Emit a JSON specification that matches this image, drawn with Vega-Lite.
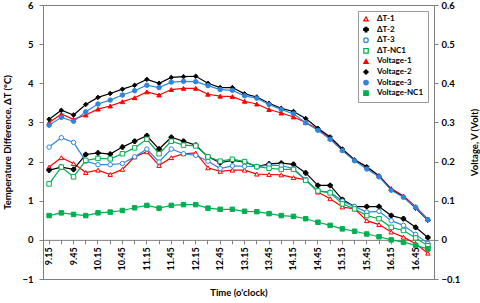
{
  "$schema": "https://vega.github.io/schema/vega-lite/v6.json",
  "width": 391,
  "height": 274,
  "autosize": {"type": "none"},
  "padding": {"left": 43, "top": 5, "right": 46, "bottom": 24},
  "config": {
    "view": {"stroke": "#7f7f7f", "strokeWidth": 1},
    "font": "Lato",
    "axis": {
      "labelFont": "Lato", "labelFontWeight": "bold", "labelFontSize": 9.5, "labelColor": "#000000",
      "titleFont": "Lato", "titleFontWeight": "bold", "titleFontSize": 9.5, "titleColor": "#000000",
      "domainColor": "#7f7f7f", "tickColor": "#7f7f7f", "grid": false, "tickSize": 4
    },
    "legend": {
      "labelFont": "Lato", "labelFontWeight": "bold", "labelFontSize": 8, "labelColor": "#000000"
    }
  },
  "datasets": {
    "wide": [
      {"t": "9.15", "dT1": 1.86, "dT2": 1.78, "dT3": 2.37, "dTNC1": 1.43, "V1": 0.300, "V2": 0.308, "V3": 0.293, "VNC1": 0.062},
      {"t": "9.30", "dT1": 2.10, "dT2": 1.86, "dT3": 2.61, "dTNC1": 1.86, "V1": 0.321, "V2": 0.331, "V3": 0.313, "VNC1": 0.069},
      {"t": "9.45", "dT1": 1.95, "dT2": 1.80, "dT3": 2.49, "dTNC1": 1.61, "V1": 0.308, "V2": 0.319, "V3": 0.303, "VNC1": 0.065},
      {"t": "10.00", "dT1": 1.72, "dT2": 2.18, "dT3": 2.01, "dTNC1": 2.03, "V1": 0.319, "V2": 0.346, "V3": 0.327, "VNC1": 0.062},
      {"t": "10.15", "dT1": 1.78, "dT2": 2.22, "dT3": 1.92, "dTNC1": 2.08, "V1": 0.334, "V2": 0.364, "V3": 0.347, "VNC1": 0.069},
      {"t": "10.30", "dT1": 1.67, "dT2": 2.19, "dT3": 1.92, "dTNC1": 2.07, "V1": 0.342, "V2": 0.374, "V3": 0.357, "VNC1": 0.071},
      {"t": "10.45", "dT1": 1.80, "dT2": 2.37, "dT3": 1.95, "dTNC1": 2.20, "V1": 0.353, "V2": 0.385, "V3": 0.370, "VNC1": 0.075},
      {"t": "11.00", "dT1": 2.12, "dT2": 2.52, "dT3": 2.12, "dTNC1": 2.35, "V1": 0.363, "V2": 0.395, "V3": 0.381, "VNC1": 0.082},
      {"t": "11.15", "dT1": 2.25, "dT2": 2.66, "dT3": 2.32, "dTNC1": 2.57, "V1": 0.378, "V2": 0.410, "V3": 0.395, "VNC1": 0.088},
      {"t": "11.30", "dT1": 1.90, "dT2": 2.32, "dT3": 1.99, "dTNC1": 2.20, "V1": 0.370, "V2": 0.400, "V3": 0.389, "VNC1": 0.081},
      {"t": "11.45", "dT1": 2.10, "dT2": 2.62, "dT3": 2.32, "dTNC1": 2.52, "V1": 0.384, "V2": 0.415, "V3": 0.403, "VNC1": 0.088},
      {"t": "12.00", "dT1": 2.20, "dT2": 2.52, "dT3": 2.20, "dTNC1": 2.42, "V1": 0.387, "V2": 0.417, "V3": 0.405, "VNC1": 0.090},
      {"t": "12.15", "dT1": 2.22, "dT2": 2.42, "dT3": 2.16, "dTNC1": 2.40, "V1": 0.387, "V2": 0.418, "V3": 0.404, "VNC1": 0.090},
      {"t": "12.30", "dT1": 1.84, "dT2": 2.12, "dT3": 2.01, "dTNC1": 2.12, "V1": 0.372, "V2": 0.400, "V3": 0.394, "VNC1": 0.081},
      {"t": "12.45", "dT1": 1.75, "dT2": 1.97, "dT3": 1.82, "dTNC1": 2.01, "V1": 0.367, "V2": 0.389, "V3": 0.384, "VNC1": 0.078},
      {"t": "13.00", "dT1": 1.78, "dT2": 2.03, "dT3": 1.89, "dTNC1": 2.06, "V1": 0.366, "V2": 0.389, "V3": 0.382, "VNC1": 0.078},
      {"t": "13.15", "dT1": 1.78, "dT2": 1.99, "dT3": 1.88, "dTNC1": 2.00, "V1": 0.354, "V2": 0.373, "V3": 0.368, "VNC1": 0.073},
      {"t": "13.30", "dT1": 1.68, "dT2": 1.87, "dT3": 1.87, "dTNC1": 1.87, "V1": 0.347, "V2": 0.365, "V3": 0.362, "VNC1": 0.072},
      {"t": "13.45", "dT1": 1.67, "dT2": 1.94, "dT3": 1.91, "dTNC1": 1.83, "V1": 0.333, "V2": 0.349, "V3": 0.346, "VNC1": 0.067},
      {"t": "14.00", "dT1": 1.66, "dT2": 1.96, "dT3": 1.90, "dTNC1": 1.80, "V1": 0.324, "V2": 0.336, "V3": 0.333, "VNC1": 0.062},
      {"t": "14.15", "dT1": 1.59, "dT2": 1.93, "dT3": 1.82, "dTNC1": 1.80, "V1": 0.314, "V2": 0.328, "V3": 0.322, "VNC1": 0.060},
      {"t": "14.30", "dT1": 1.54, "dT2": 1.71, "dT3": 1.54, "dTNC1": 1.52, "V1": 0.300, "V2": 0.310, "V3": 0.299, "VNC1": 0.054},
      {"t": "14.45", "dT1": 1.22, "dT2": 1.39, "dT3": 1.25, "dTNC1": 1.25, "V1": 0.283, "V2": 0.285, "V3": 0.280, "VNC1": 0.045},
      {"t": "15.00", "dT1": 1.05, "dT2": 1.39, "dT3": 1.22, "dTNC1": 1.20, "V1": 0.259, "V2": 0.263, "V3": 0.257, "VNC1": 0.037},
      {"t": "15.15", "dT1": 0.84, "dT2": 1.03, "dT3": 0.99, "dTNC1": 0.92, "V1": 0.230, "V2": 0.232, "V3": 0.228, "VNC1": 0.028},
      {"t": "15.30", "dT1": 0.79, "dT2": 0.85, "dT3": 0.85, "dTNC1": 0.79, "V1": 0.205, "V2": 0.204, "V3": 0.202, "VNC1": 0.022},
      {"t": "15.45", "dT1": 0.49, "dT2": 0.85, "dT3": 0.71, "dTNC1": 0.62, "V1": 0.186, "V2": 0.187, "V3": 0.181, "VNC1": 0.015},
      {"t": "16.00", "dT1": 0.39, "dT2": 0.85, "dT3": 0.73, "dTNC1": 0.54, "V1": 0.164, "V2": 0.163, "V3": 0.161, "VNC1": 0.008},
      {"t": "16.15", "dT1": 0.20, "dT2": 0.62, "dT3": 0.49, "dTNC1": 0.32, "V1": 0.131, "V2": 0.128, "V3": 0.127, "VNC1": 0.000},
      {"t": "16.30", "dT1": 0.07, "dT2": 0.54, "dT3": 0.37, "dTNC1": 0.24, "V1": 0.112, "V2": 0.110, "V3": 0.109, "VNC1": -0.006},
      {"t": "16.45", "dT1": -0.10, "dT2": 0.32, "dT3": 0.14, "dTNC1": 0.05, "V1": 0.085, "V2": 0.081, "V3": 0.083, "VNC1": -0.014},
      {"t": "17.00", "dT1": -0.34, "dT2": 0.06, "dT3": -0.09, "dTNC1": -0.15, "V1": 0.053, "V2": 0.050, "V3": 0.052, "VNC1": -0.023}
    ]
  },
  "data": {"name": "wide"},
  "layer": [
    {
      "transform": [{"fold": ["dT1", "dT2", "dT3", "dTNC1"], "as": ["key", "value"]}],
      "mark": {"type": "line", "strokeWidth": 1.2},
      "encoding": {
        "x": {
          "field": "t", "type": "ordinal", "sort": null,
          "scale": {"type": "band", "paddingInner": 0, "paddingOuter": 0},
          "axis": {
            "orient": "bottom", "offset": -39.14, "title": "Time (o'clock)",
            "labelAngle": -90, "labelPadding": 3, "labelFontSize": 9,
            "labelExpr": "slice(datum.value, -2) == '15' || slice(datum.value, -2) == '45' ? datum.value : ''",
            "labelOverlap": false, "titleY": 53, "titleBaseline": "middle"
          }
        },
        "y": {
          "field": "value", "type": "quantitative",
          "scale": {"domain": [-1, 6], "nice": false, "zero": false},
          "axis": {
            "orient": "left", "values": [-1, 0, 1, 2, 3, 4, 5, 6], "labelPadding": 6,
            "title": "Temperature Difference, ΔT (°C)", "titleX": -36, "titleBaseline": "middle", "titleAngle": -90
          }
        },
        "stroke": {
          "field": "key", "type": "nominal",
          "scale": {
            "domain": ["dT1", "dT2", "dT3", "dTNC1", "V1", "V2", "V3", "VNC1"],
            "range": ["#ff0000", "#000000", "#2e86de", "#00b050", "#ff0000", "#000000", "#2e86de", "#00b050"]
          },
          "legend": {
            "title": null, "orient": "top-right", "offset": 6,
            "padding": 4, "strokeColor": "#9a9a9a", "fillColor": "#ffffff",
            "symbolSize": 20, "symbolStrokeWidth": 1.2, "labelOffset": 7, "rowPadding": 0.6,
            "labelExpr": "datum.label == 'dT1' ? 'ΔT-1' : datum.label == 'dT2' ? 'ΔT-2' : datum.label == 'dT3' ? 'ΔT-3' : datum.label == 'dTNC1' ? 'ΔT-NC1' : datum.label == 'V1' ? 'Voltage-1' : datum.label == 'V2' ? 'Voltage-2' : datum.label == 'V3' ? 'Voltage-3' : 'Voltage-NC1'",
            "encode": {
              "symbols": {
                "update": {
                  "fill": {"signal": "datum.value == 'dT1' || datum.value == 'dT3' || datum.value == 'dTNC1' ? '#ffffff' : datum.value == 'dT2' || datum.value == 'V2' ? '#000000' : datum.value == 'V1' ? '#ff0000' : datum.value == 'V3' ? '#2e86de' : '#00b050'"},
                  "opacity": {"value": 1}
                }
              }
            }
          }
        }
      }
    },
    {
      "transform": [{"fold": ["dT1", "dT2", "dT3", "dTNC1"], "as": ["key", "value"]}],
      "mark": {"type": "point", "filled": true, "opacity": 1, "size": 20, "strokeWidth": 1},
      "encoding": {
        "x": {"field": "t", "type": "ordinal", "sort": null},
        "y": {"field": "value", "type": "quantitative", "scale": {"domain": [-1, 6], "nice": false, "zero": false}, "axis": null},
        "stroke": {"field": "key", "type": "nominal", "legend": null},
        "shape": {
          "field": "key", "type": "nominal", "legend": null,
          "scale": {
            "domain": ["dT1", "dT2", "dT3", "dTNC1", "V1", "V2", "V3", "VNC1"],
            "range": ["triangle-up", "cross", "circle", "square", "triangle-up", "diamond", "circle", "square"]
          }
        },
        "fill": {
          "field": "key", "type": "nominal", "legend": null,
          "scale": {
            "domain": ["dT1", "dT2", "dT3", "dTNC1", "V1", "V2", "V3", "VNC1"],
            "range": ["#ffffff", "#000000", "#ffffff", "#ffffff", "#ff0000", "#000000", "#2e86de", "#00b050"]
          }
        }
      }
    },
    {
      "transform": [{"fold": ["V1", "V2", "V3", "VNC1"], "as": ["key", "value"]}],
      "mark": {"type": "line", "strokeWidth": 1.2},
      "encoding": {
        "x": {"field": "t", "type": "ordinal", "sort": null},
        "y": {
          "field": "value", "type": "quantitative",
          "scale": {"domain": [-0.1, 0.6], "nice": false, "zero": false},
          "axis": {
            "orient": "right", "values": [-0.1, 0, 0.1, 0.2, 0.3, 0.4, 0.5, 0.6], "labelPadding": 3,
            "labelExpr": "datum.value == 0 ? '0' : format(datum.value, '.1f')",
            "title": "Voltage, V (Volt)", "titleX": 40, "titleBaseline": "middle", "titleAngle": -90
          }
        },
        "stroke": {"field": "key", "type": "nominal", "legend": null}
      }
    },
    {
      "transform": [{"fold": ["V1", "V2", "V3", "VNC1"], "as": ["key", "value"]}],
      "mark": {"type": "point", "filled": true, "opacity": 1, "size": 20, "strokeWidth": 1},
      "encoding": {
        "x": {"field": "t", "type": "ordinal", "sort": null},
        "y": {"field": "value", "type": "quantitative", "scale": {"domain": [-0.1, 0.6], "nice": false, "zero": false}, "axis": null},
        "stroke": {"field": "key", "type": "nominal", "legend": null},
        "shape": {"field": "key", "type": "nominal", "legend": null},
        "fill": {"field": "key", "type": "nominal", "legend": null}
      }
    }
  ],
  "resolve": {"scale": {"y": "independent"}}
}
